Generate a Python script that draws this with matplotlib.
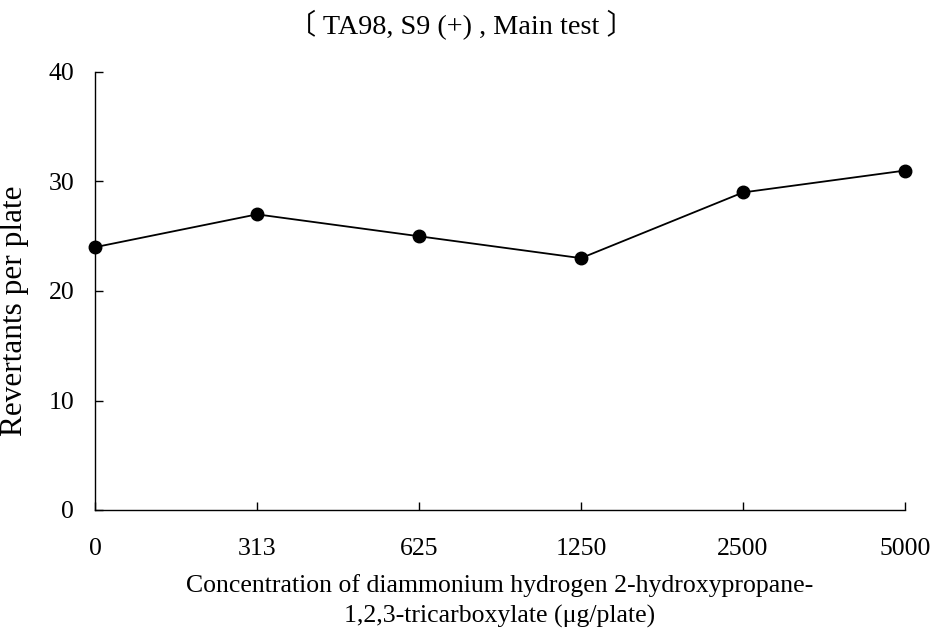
import matplotlib
matplotlib.use("Agg")
import matplotlib.pyplot as plt

categories = ["0", "313", "625", "1250", "2500", "5000"]
revertants = [24, 27, 25, 23, 29, 31]
y_ticks = [0, 10, 20, 30, 40]

plt.rcParams['font.family'] = ['Liberation Serif', 'Noto Sans CJK JP', 'DejaVu Sans']

fig = plt.figure(figsize=(9.34, 6.36), dpi=100)
ax = fig.add_axes([95/934, 126/636, 810/934, 438/636])

x = list(range(len(categories)))
ax.plot(x, revertants, color='black', linewidth=1.3, marker='o', markersize=9, clip_on=False)

ax.set_xlim(0, len(categories) - 1)
ax.set_ylim(0, 40)
ax.set_xticks(x)
ax.set_xticklabels(categories)
ax.set_yticks(y_ticks)

for s in ['top', 'right']:
    ax.spines[s].set_visible(False)
for s in ['left', 'bottom']:
    ax.spines[s].set_linewidth(1.0)

ax.tick_params(axis='both', direction='in', length=6, width=1.0, labelsize=18.5)
ax.tick_params(axis='x', pad=20)
ax.tick_params(axis='y', pad=15)

ax.set_ylabel("Revertants per plate", fontsize=22.5)
ax.yaxis.set_label_coords(-66/810, 0.455)
ax.set_xlabel("Concentration of diammonium hydrogen 2-hydroxypropane-\n1,2,3-tricarboxylate (\u03bcg/plate)",
              fontsize=18.5, labelpad=10, linespacing=1.45)

fig.text(0.494, 0.96, "\u3014 TA98, S9 (+) , Main test \u3015", ha='center', va='center', fontsize=20.3)

fig.savefig("out.png", dpi=100)
